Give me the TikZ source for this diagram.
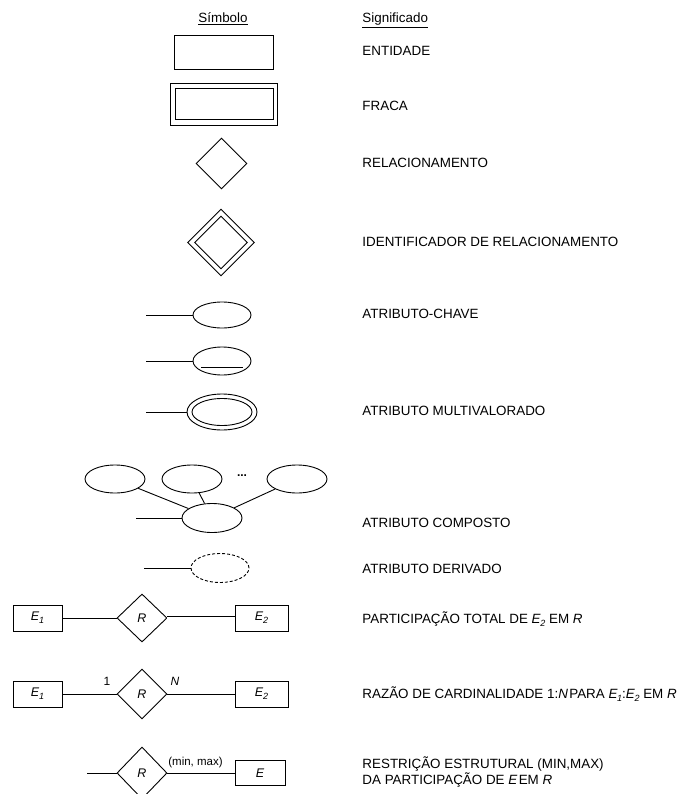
\documentclass[tikz,border=0pt]{standalone}
\usepackage{fontspec}
\setmainfont{Liberation Sans}
\usetikzlibrary{shapes.geometric}

% italic entity name with a small italic index
\newcommand\Esub[1]{\textit{E}\kern-0.03em\raisebox{-0.4ex}{\fontsize{9}{9}\selectfont\textit{#1}}}

\begin{document}
\begin{tikzpicture}[x=1pt, y=-1pt, line width=0.9pt,
  every node/.style={font=\fontsize{13.4}{16}\selectfont},
  meaning/.style={anchor=west, inner sep=0, text height=9.6pt, text depth=0pt},
  entbox/.style={draw, rectangle, inner sep=0, font=\fontsize{12.5}{12.5}\selectfont},
  relbox/.style={draw, diamond, inner sep=0, font=\fontsize{12.5}{12.5}\selectfont\itshape},
  attrbox/.style={draw, ellipse, inner sep=0},
  smalllabel/.style={inner sep=0, font=\fontsize{11.5}{11.5}\selectfont}
]
\useasboundingbox (0,0) rectangle (683,794);

% column headers
\node[meaning] (hsym) at (198,18) {\underline{Símbolo}};
\node[meaning] (hsig) at (362,18) {\underline{Significado}};

% entity
\node[entbox, minimum width=99pt, minimum height=34pt] (ent) at (223.5,52) {};
\node[meaning] (tent) at (362,51) {ENTIDADE};

% weak entity
\node[entbox, minimum width=107pt, minimum height=42pt] (weakout) at (223.5,104) {};
\node[entbox, minimum width=98pt, minimum height=31pt] (weakin) at (224,103.5) {};
\node[meaning] (tweak) at (362,106) {FRACA};

% relationship
\node[relbox, minimum width=51pt, minimum height=51pt] (rel) at (221.5,163.5) {};
\node[meaning] (trel) at (362,163) {RELACIONAMENTO};

% identifying relationship
\node[relbox, minimum width=67pt, minimum height=67pt] (idout) at (221,242.5) {};
\node[relbox, minimum width=53pt, minimum height=53pt] (idin) at (221,242.5) {};
\node[meaning] (tid) at (362,242) {IDENTIFICADOR DE RELACIONAMENTO};

% key attribute
\node[attrbox, minimum width=58pt, minimum height=26pt] (key) at (222,315) {};
\coordinate (key0) at (146,315);
\draw (key0) -- (key);
\node[meaning] (tkey) at (362,314) {ATRIBUTO-CHAVE};

% partial key attribute
\node[attrbox, minimum width=58pt, minimum height=28pt] (pkey) at (222,361) {};
\coordinate (pkey0) at (146,361);
\draw (pkey0) -- (pkey);
\draw ([xshift=-21pt, yshift=-6pt]pkey.center) -- ([xshift=21pt, yshift=-6pt]pkey.center);

% multivalued attribute
\node[attrbox, minimum width=70pt, minimum height=36pt] (multout) at (222,412) {};
\node[attrbox, minimum width=60pt, minimum height=27pt] (multin) at (222,412) {};
\coordinate (mult0) at (146,412);
\draw (mult0) -- (multout);
\node[meaning] (tmult) at (362,411) {ATRIBUTO MULTIVALORADO};

% composite attribute
\node[attrbox, minimum width=60pt, minimum height=28pt] (cleft) at (115,479) {};
\node[attrbox, minimum width=60pt, minimum height=28pt] (cmid) at (192,479) {};
\node[attrbox, minimum width=60pt, minimum height=28pt] (cright) at (297,479) {};
\node[attrbox, minimum width=60pt, minimum height=29pt] (cbase) at (212,518) {};
\node[inner sep=0, font=\fontsize{12}{12}\selectfont\bfseries] (cdots) at (242,476) {...};
\coordinate (comp0) at (136,518);
\draw (comp0) -- (cbase);
\draw (cleft) -- (cbase);
\draw (cmid) -- (cbase);
\draw (cright) -- (cbase);
\node[meaning] (tcomp) at (362,523) {ATRIBUTO COMPOSTO};

% derived attribute
\node[attrbox, dash pattern=on 3pt off 2pt, minimum width=58pt, minimum height=29pt] (der) at (220,568) {};
\coordinate (der0) at (144,568);
\draw (der0) -- (der);
\node[meaning] (tder) at (362,569) {ATRIBUTO DERIVADO};

% total participation
\node[entbox, minimum width=49pt, minimum height=26pt] (ea) at (37.5,618) {\Esub{1}};
\node[relbox, minimum width=50pt, minimum height=48pt] (ra) at (142,618) {R};
\node[entbox, minimum width=53pt, minimum height=26pt] (fa) at (261.5,618) {\Esub{2}};
\draw (ea) -- (ra);
\draw[line width=0.8pt, double, double distance=3pt] (ra) -- (fa);
\node[meaning] (tpart) at (362,619) {PARTICIPAÇÃO TOTAL DE \Esub{2} EM \textit{R}};

% cardinality ratio
\node[entbox, minimum width=49pt, minimum height=26pt] (eb) at (37.5,694) {\Esub{1}};
\node[relbox, minimum width=50pt, minimum height=50pt] (rb) at (142,694) {R};
\node[entbox, minimum width=53pt, minimum height=26pt] (fb) at (261.5,694) {\Esub{2}};
\draw (eb) -- (rb);
\draw (rb) -- (fb);
\node[smalllabel, font=\fontsize{12}{12}\selectfont] (one) at (107,681) {1};
\node[smalllabel, font=\fontsize{12}{12}\selectfont\itshape] (many) at (175,681) {N};
\node[meaning] (tcard) at (362,694) {RAZÃO DE CARDINALIDADE 1:\textit{N}\kern0.1em PARA \Esub{1}:\Esub{2} EM \textit{R}};

% structural constraint
\coordinate (rc0) at (87,773);
\node[relbox, minimum width=50pt, minimum height=52pt] (rc) at (142,773) {R};
\node[entbox, minimum width=50pt, minimum height=25pt] (ec) at (260,773) {\textit{E}};
\draw (rc0) -- (rc);
\draw (rc) -- (ec);
\node[smalllabel] (minmax) at (195.5,763) {(min, max)};
\node[meaning] (tstr1) at (362,764) {RESTRIÇÃO ESTRUTURAL (MIN,MAX)};
\node[meaning] (tstr2) at (362,780) {DA PARTICIPAÇÃO DE \textit{E}\kern0.1em EM \textit{R}};
\end{tikzpicture}
\end{document}
